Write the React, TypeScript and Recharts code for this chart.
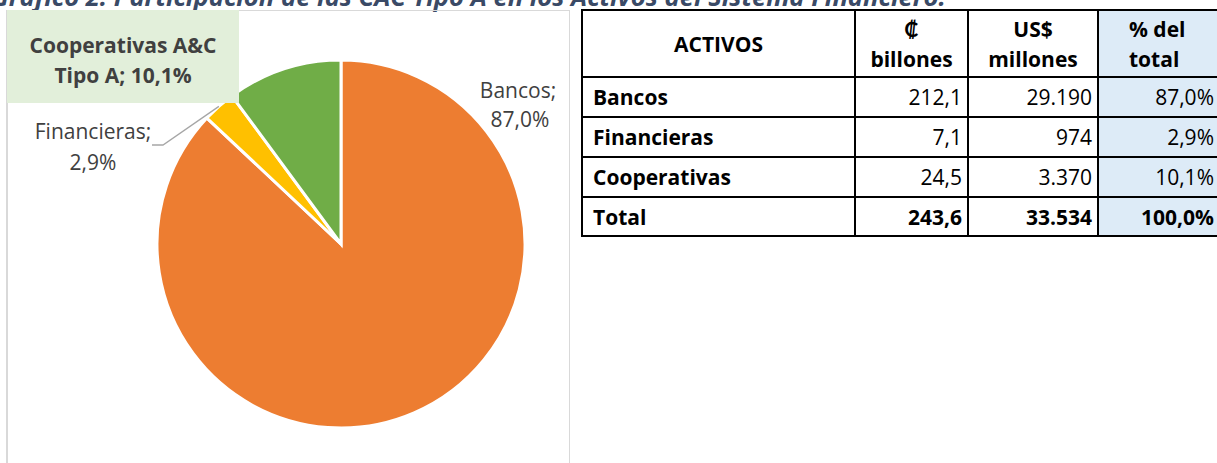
import React from 'react';
import { PieChart, Pie, Cell } from 'recharts';

const categories = ['Bancos', 'Financieras', 'Cooperativas'];
const pieNames = ['Bancos', 'Financieras', 'Cooperativas A&C Tipo A'];
const shares = [87.0, 2.9, 10.1];
const colonesBillones = [212.1, 7.1, 24.5];
const usdMillones = [29190, 974, 3370];
const totals = { colones: 243.6, usd: 33534, share: 100.0 };

const COLORS = ['#ED7D31', '#FFC000', '#70AD47'];
const FONT = '"Open Sans", Lato, sans-serif';
const LABEL = '#404040';

const pieData = pieNames.map((name, i) => ({ name, value: shares[i] }));

const dec = (v: number) => v.toFixed(1).replace('.', ',');
const thousands = (v: number) => String(v).replace(/\B(?=(\d{3})+(?!\d))/g, '.');

const renderLabel = (props: any) => {
  const { cx, cy, midAngle, outerRadius, index, value } = props;
  const pct = dec(value) + '%';
  if (index === 0) {
    return (
      <g>
        <text x={cx + 177} y={cy - 154} textAnchor="middle" dominantBaseline="central" fill={LABEL} fontSize={21} fontFamily={FONT}>Bancos;</text>
        <text x={cx + 179} y={cy - 125} textAnchor="middle" dominantBaseline="central" fill={LABEL} fontSize={21} fontFamily={FONT}>{pct}</text>
      </g>
    );
  }
  if (index === 1) {
    const rad = (Math.PI / 180) * midAngle;
    const ex = cx + outerRadius * Math.cos(rad);
    const ey = cy - outerRadius * Math.sin(rad);
    return (
      <g>
        <polyline points={`${ex},${ey} ${cx - 178},${cy - 99} ${cx - 189},${cy - 99}`} fill="none" stroke="#A6A6A6" strokeWidth={1.3} />
        <text x={cx - 248} y={cy - 113} textAnchor="middle" dominantBaseline="central" fill={LABEL} fontSize={21} fontFamily={FONT}>Financieras;</text>
        <text x={cx - 248} y={cy - 82} textAnchor="middle" dominantBaseline="central" fill={LABEL} fontSize={21} fontFamily={FONT}>{pct}</text>
      </g>
    );
  }
  return (
    <g>
      <rect x={cx - 334} y={cy - 234} width={232} height={93} fill="#E2EFDA" />
      <text x={cx - 218} y={cy - 199} textAnchor="middle" dominantBaseline="central" fill={LABEL} fontSize={21} fontWeight="bold" fontFamily={FONT}>Cooperativas A&amp;C</text>
      <text x={cx - 218} y={cy - 169} textAnchor="middle" dominantBaseline="central" fill={LABEL} fontSize={21} fontWeight="bold" fontFamily={FONT}>Tipo A; {pct}</text>
    </g>
  );
};

const cell: React.CSSProperties = {
  border: '2px solid #000',
  padding: '0 5px',
  fontFamily: FONT,
  fontSize: 21,
  color: '#000',
  lineHeight: '30px',
};
const blue = '#DDEBF7';

export default function App() {
  return (
    <div style={{ position: 'absolute', left: 0, top: 0, width: 1217, height: 463, overflow: 'hidden', background: '#fff' }}>
      <div style={{ position: 'absolute', left: -9, top: -21.5, whiteSpace: 'nowrap', fontFamily: FONT, fontSize: 25.6, fontWeight: 'bold', fontStyle: 'italic', color: '#3A4A66' }}>
        Gráfico 2. Participación de las CAC Tipo A en los Activos del Sistema Financiero.
      </div>
      <div style={{ position: 'absolute', left: 6, top: 10, width: 561, height: 470, borderLeft: '2px solid #D9D9D9', borderTop: '1px solid #D9D9D9', borderRight: '1px solid #D9D9D9' }} />
      <div style={{ position: 'absolute', left: 0, top: 0 }}>
        <PieChart width={570} height={463} margin={{ top: 0, right: 0, bottom: 0, left: 0 }}>
          <Pie
            data={pieData}
            dataKey="value"
            cx={341}
            cy={244}
            outerRadius={184}
            startAngle={90}
            endAngle={-270}
            stroke="#fff"
            strokeWidth={3}
            labelLine={false}
            label={renderLabel}
            isAnimationActive={false}
          >
            {pieData.map((entry, index) => (
              <Cell key={`cell-${index}`} fill={COLORS[index]} />
            ))}
          </Pie>
        </PieChart>
      </div>
      <table style={{ position: 'absolute', left: 581, top: 9, borderCollapse: 'collapse', tableLayout: 'fixed', width: 660 }}>
        <colgroup>
          <col style={{ width: 273 }} />
          <col style={{ width: 113 }} />
          <col style={{ width: 130 }} />
          <col style={{ width: 144 }} />
        </colgroup>
        <tbody>
          <tr style={{ height: 67 }}>
            <td style={{ ...cell, fontWeight: 'bold', textAlign: 'center' }}>ACTIVOS</td>
            <td style={{ ...cell, fontWeight: 'bold', textAlign: 'center' }}>₡<br />billones</td>
            <td style={{ ...cell, fontWeight: 'bold', textAlign: 'center' }}>US$<br />millones</td>
            <td style={{ ...cell, fontWeight: 'bold', textAlign: 'left', paddingLeft: 30, background: blue, borderRight: 'none' }}>% del<br />total</td>
          </tr>
          {categories.map((c, i) => (
            <tr key={c} style={{ height: 40 }}>
              <td style={{ ...cell, fontWeight: 'bold', textAlign: 'left', paddingLeft: 10 }}>{c}</td>
              <td style={{ ...cell, textAlign: 'right' }}>{dec(colonesBillones[i])}</td>
              <td style={{ ...cell, textAlign: 'right' }}>{thousands(usdMillones[i])}</td>
              <td style={{ ...cell, textAlign: 'right', paddingRight: 28, background: blue, borderRight: 'none' }}>{dec(shares[i])}%</td>
            </tr>
          ))}
          <tr style={{ height: 39 }}>
            <td style={{ ...cell, fontWeight: 'bold', textAlign: 'left', paddingLeft: 10 }}>Total</td>
            <td style={{ ...cell, fontWeight: 'bold', textAlign: 'right' }}>{dec(totals.colones)}</td>
            <td style={{ ...cell, fontWeight: 'bold', textAlign: 'right' }}>{thousands(totals.usd)}</td>
            <td style={{ ...cell, fontWeight: 'bold', textAlign: 'right', paddingRight: 28, background: blue, borderRight: 'none' }}>{dec(totals.share)}%</td>
          </tr>
        </tbody>
      </table>
    </div>
  );
}
